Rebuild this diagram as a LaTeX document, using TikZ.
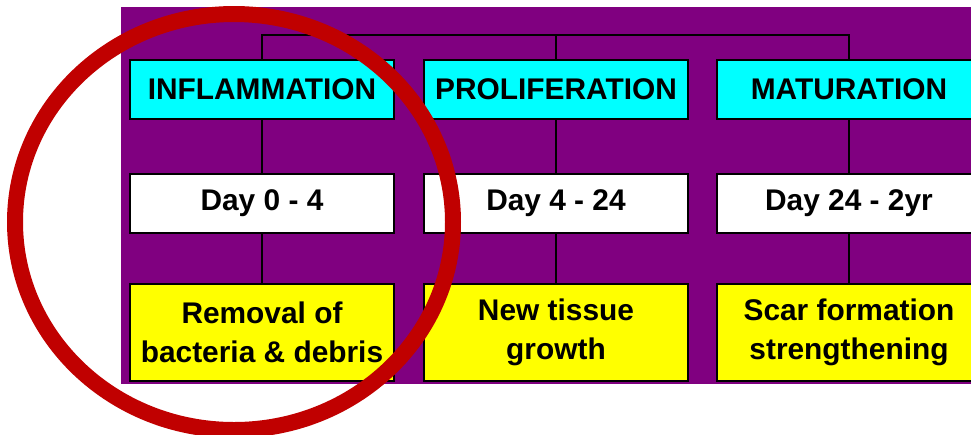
\documentclass[tikz,border=0pt]{standalone}
\usepackage{fontspec}
\setmainfont{Liberation Sans}
\definecolor{bgpurple}{RGB}{128,0,128}
\definecolor{ringred}{RGB}{192,0,0}
\definecolor{phasecyan}{RGB}{0,255,255}
\definecolor{taskyellow}{RGB}{255,255,0}
\tikzset{
  phase/.style={draw, line width=1.1pt, fill=phasecyan, minimum width=5.28cm, minimum height=1.18cm,
    inner sep=0pt, font=\bfseries\fontsize{17}{22}\selectfont},
  days/.style={phase, fill=white},
  task/.style={phase, fill=taskyellow, minimum height=1.94cm, align=center},
  link/.style={line width=1.1pt},
}
\begin{document}
\begin{tikzpicture}[x=0.02cm, y=-0.02cm]
        \useasboundingbox (0,0) rectangle (971,434);
        \clip (0,0) rectangle (971,434);
        \fill[bgpurple] (121,7) rectangle (990,384);

        % Nodes
        \coordinate (bar) at (556,35);
        \node (infl)  at (262,89.5)  [phase] {INFLAMMATION};
        \node (prol)  at (556,89.5)  [phase] {PROLIFERATION};
        \node (matu)  at (849,89.5)  [phase] {MATURATION};
        \node (day1)  at (262,203.5) [days]  {Day 0 - 4};
        \node (day2)  at (556,203.5) [days]  {Day 4 - 24};
        \node (day3)  at (849,203.5) [days]  {Day 24 - 2yr};
        \node (task1) at (262,332.5) [task]  {Removal of\\bacteria \& debris};
        \node (task2) at (556,332.5) [task]  {New tissue\\growth};
        \node (task3) at (849,332.5) [task]  {Scar formation\\strengthening};

        % Edges
        \draw[link] (infl.north) |- (bar) -| (matu.north);
        \draw[link] (prol.north) -- (bar);
        \draw[link] (infl) -- (day1);
        \draw[link] (prol) -- (day2);
        \draw[link] (matu) -- (day3);
        \draw[link] (day1) -- (task1);
        \draw[link] (day2) -- (task2);
        \draw[link] (day3) -- (task3);

        % Ring
        \draw[ringred, line width=0.32cm] (234,222) ellipse [x radius=219, y radius=208];
      \end{tikzpicture}
\end{document}
